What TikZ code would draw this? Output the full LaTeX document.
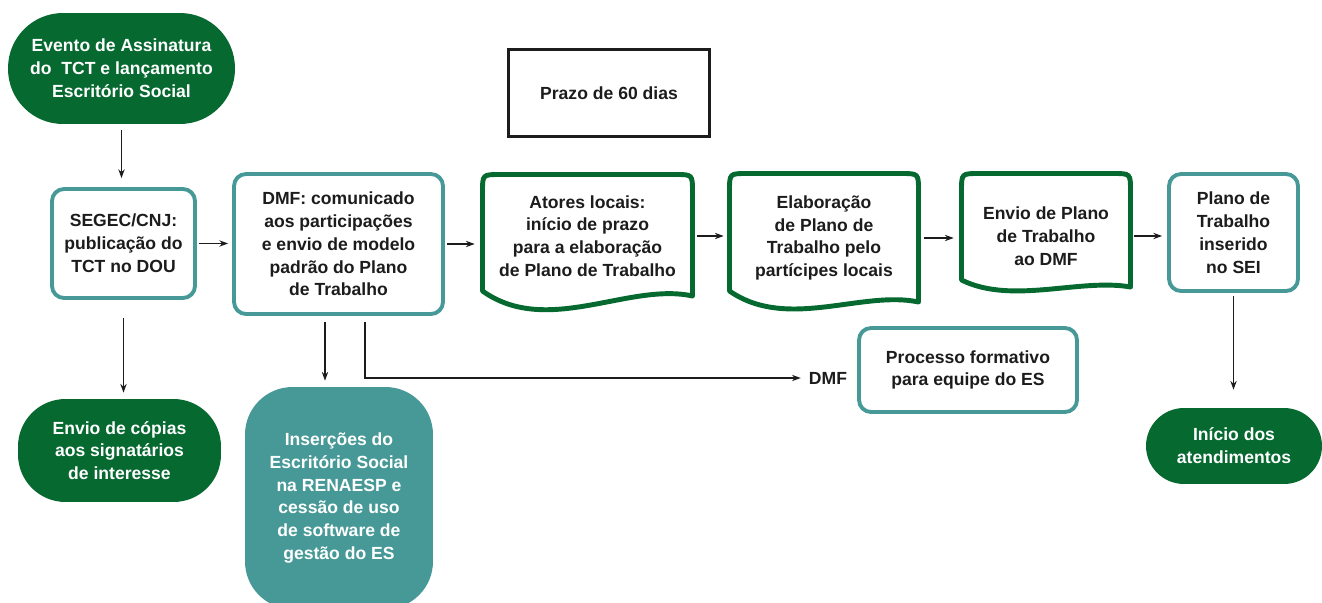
\documentclass[tikz,border=0pt]{standalone}
\usepackage{fontspec}
\setmainfont{Liberation Sans}
\usepackage{xcolor}
\definecolor{ColG}{RGB}{6,105,48}
\definecolor{ColT}{RGB}{70,153,151}
\definecolor{ColK}{RGB}{28,28,28}
\usepackage{tikz}
\usetikzlibrary{arrows.meta}
\tikzstyle{Txt}=[font=\fontsize{10}{13}\selectfont\bfseries,align=center,
text=ColK]
\tikzstyle{Oval}=[Txt,fill=ColG,text=white,inner sep=0pt]
\tikzstyle{Box}=[Txt,draw=ColT,line width=2.2pt,rounded corners=0.24cm,
fill=white,inner sep=0pt]
\tikzstyle{Doc}=[draw=ColG,line width=2.8pt,fill=white,line join=round]
\tikzstyle{Frame}=[Txt,draw=ColK,line width=1.6pt]
\tikzstyle{Arrow}=[draw=ColK,line width=0.75pt,
-{Stealth[length=5pt,width=3.6pt]}]

\begin{document}
\begin{tikzpicture}[x=0.02cm,y=-0.02cm]
        \useasboundingbox(0,0)rectangle(1322,602);
        \clip(0,0)rectangle(1322,602);
        % upper row
        \node[Oval,rounded corners=1.1cm,minimum width=4.54cm,
            minimum height=2.22cm](evento)at(121.5,68.5)
            {Evento de Assinatura\\do \ TCT e lançamento\\Escritório Social};
        \node[Box,minimum width=2.86cm,minimum height=2.18cm](segec)
            at(123.5,243.5){SEGEC/CNJ:\\publicação do\\TCT no DOU};
        \node[Box,minimum width=4.18cm,minimum height=2.80cm](dmf)
            at(338.5,244){DMF: comunicado\\aos participações\\
            e envio de modelo\\padrão do Plano\\de Trabalho};
        \node[Frame,minimum width=4.02cm,minimum height=1.74cm](prazo)
            at(609,93){Prazo de 60 dias};
        \draw[Doc](482.5,291)--(482.5,192)..controls(482.5,174.5)..
            (500,174.5)--(675,174.5)..controls(692.5,174.5)..(692.5,192)
            --(692.5,296)..controls(629,282)and(547,337)..cycle;
        \node[Txt,minimum width=4.2cm](atores)at(587.5,236)
            {Atores locais:\\início de prazo\\para a elaboração\\
            de Plano de Trabalho};
        \draw[Doc](729.5,291)--(729.5,191)..controls(729.5,173.5)..
            (747,173.5)--(901,173.5)..controls(918.5,173.5)..(918.5,191)
            --(918.5,302)..controls(862,290)and(787,331)..cycle;
        \node[Txt,minimum width=3.78cm](elab)at(824,238)
            {Elaboração\\de Plano de\\Trabalho pelo\\partícipes locais};
        \draw[Doc](961.5,280)--(961.5,191)..controls(961.5,173.5)..
            (979,173.5)--(1113,173.5)..controls(1130.5,173.5)..
            (1130.5,191)--(1130.5,287)..controls(1080,278)and(1012,305)
            ..cycle;
        \node[Txt,minimum width=3.38cm](envio)at(1046,236)
            {Envio de Plano\\de Trabalho\\ao DMF};
        \node[Box,minimum width=2.58cm,minimum height=2.34cm](plano)
            at(1233.5,232.5){Plano de\\Trabalho\\inserido\\no SEI};
        % lower row
        \node[Oval,rounded corners=0.95cm,minimum width=4.06cm,
            minimum height=2.06cm](copias)at(119.5,450.5)
            {Envio de cópias\\aos signatários\\de interesse};
        \node[Oval,fill=ColT,rounded corners=0.95cm,minimum width=3.76cm,
            minimum height=4.44cm](insercoes)at(339,498)
            {Inserções do\\Escritório Social\\na RENAESP e\\cessão de uso\\
            de software de\\gestão do ES};
        \node[Txt](dmflbl)at(828,378){DMF};
        \node[Box,minimum width=4.36cm,minimum height=1.68cm](processo)
            at(968,370){Processo formativo\\para equipe do ES};
        \node[Oval,rounded corners=0.76cm,minimum width=3.52cm,
            minimum height=1.52cm](inicio)at(1234,446)
            {Início dos\\atendimentos};
        % connectors
        \draw[Arrow,shorten <=0.12cm,shorten >=0.18cm]
            (evento.south)--(evento.south|-segec.north);
        \draw[Arrow,shorten <=0.04cm,shorten >=0.08cm]
            (segec.east)--(segec.east-|dmf.west);
        \draw[Arrow,shorten <=0.04cm,shorten >=0.15cm]
            (dmf.east)--(dmf.east-|atores.west);
        \draw[Arrow,shorten <=0.09cm,shorten >=0.11cm]
            (atores.east)--(atores.east-|elab.west);
        \draw[Arrow,shorten <=0.11cm,shorten >=0.15cm]
            (elab.east)--(elab.east-|envio.west);
        \draw[Arrow,shorten <=0.07cm,shorten >=0.1cm]
            (envio.east)--(envio.east-|plano.west);
        \draw[Arrow,shorten <=0.06cm,shorten >=0.36cm]
            (plano.south)--(plano.south|-inicio.north);
        \draw[Arrow,shorten <=0.36cm,shorten >=0.12cm]
            (segec.south)--(segec.south|-copias.north);
        \draw[Arrow,shorten <=0.12cm,shorten >=0.12cm]
            ([xshift=-0.27cm]dmf.south)--([xshift=-0.27cm]dmf.south|-insercoes.north);
        \draw[Arrow,shorten <=0.12cm,shorten >=0.04cm]
            ([xshift=0.53cm]dmf.south)|-(dmflbl.west);
    \end{tikzpicture}
\end{document}
